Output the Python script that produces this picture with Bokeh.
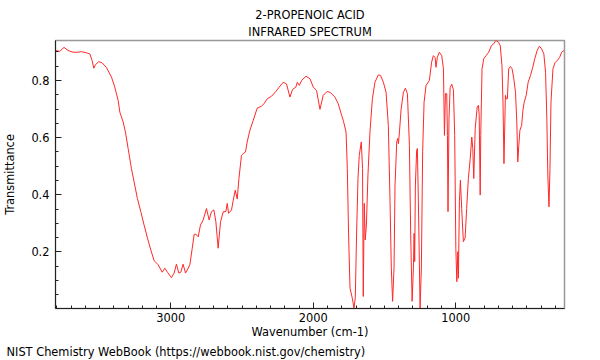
import numpy as np
from bokeh.plotting import figure
from bokeh.models import FixedTicker, Title
from bokeh.embed import file_html
from bokeh.resources import INLINE

title_lines = ["2-PROPENOIC ACID", "INFRARED SPECTRUM"]
x_label = "Wavenumber (cm-1)"
y_label = "Transmittance"
footer = "NIST Chemistry WebBook (https://webbook.nist.gov/chemistry)"

x_major = [1000, 2000, 3000]
y_major = [0.2, 0.4, 0.6, 0.8]

wavenumber = [
    3811, 3780, 3750, 3722, 3687, 3651, 3628, 3593, 3569, 3553, 3541, 3530, 3506, 3483,
    3453, 3417, 3394, 3370, 3358, 3335, 3319, 3300, 3277, 3258, 3235, 3211, 3188, 3164,
    3141, 3117, 3089, 3061, 3042, 3024, 2996, 2977, 2961, 2944, 2930, 2914, 2897, 2878,
    2866, 2850, 2836, 2824, 2808, 2792, 2773, 2750, 2731, 2715, 2698, 2684, 2668, 2651,
    2632, 2614, 2604, 2595, 2574, 2562, 2548, 2534, 2522, 2504, 2492, 2476, 2464, 2445,
    2422, 2394, 2363, 2346, 2323, 2293, 2262, 2239, 2211, 2188, 2164, 2145, 2122, 2112,
    2098, 2082, 2051, 2023, 2000, 1977, 1953, 1930, 1902, 1878, 1848, 1825, 1801, 1789,
    1770, 1761, 1752, 1742, 1726, 1714, 1705, 1696, 1686, 1677, 1663, 1654, 1649, 1642,
    1635, 1627, 1616, 1602, 1585, 1567, 1543, 1527, 1508, 1489, 1473, 1461, 1452, 1443,
    1433, 1426, 1414, 1407, 1402, 1395, 1383, 1367, 1353, 1339, 1325, 1316, 1306, 1297,
    1292, 1288, 1283, 1274, 1269, 1262, 1250, 1241, 1232, 1222, 1208, 1185, 1169, 1157,
    1145, 1138, 1129, 1115, 1098, 1086, 1079, 1072, 1063, 1058, 1054, 1047, 1039, 1028,
    1016, 1007, 999, 992, 985, 981, 974, 967, 958, 946, 934, 923, 911, 898,
    887, 880, 873, 863, 849, 840, 835, 828, 824, 815, 803, 787, 768, 749,
    734, 718, 699, 687, 675, 668, 661, 651, 645, 637, 628, 616, 604, 592,
    580, 571, 564, 557, 549, 537, 528, 519, 505, 491, 475, 459, 445, 428,
    412, 397, 381, 369, 360, 353, 345, 338, 331, 317, 303, 287, 270, 256, 240,
]
transmittance = [
    0.905, 0.902, 0.916, 0.905, 0.899, 0.899, 0.901, 0.897, 0.893, 0.870, 0.843, 0.855, 0.866, 0.862,
    0.846, 0.812, 0.777, 0.730, 0.689, 0.655, 0.620, 0.562, 0.492, 0.445, 0.387, 0.341, 0.294, 0.248,
    0.207, 0.169, 0.155, 0.129, 0.143, 0.129, 0.110, 0.126, 0.157, 0.126, 0.129, 0.157, 0.126, 0.143,
    0.157, 0.213, 0.262, 0.262, 0.253, 0.294, 0.312, 0.352, 0.312, 0.341, 0.347, 0.306, 0.213, 0.306,
    0.341, 0.341, 0.370, 0.335, 0.347, 0.381, 0.416, 0.385, 0.457, 0.538, 0.544, 0.550, 0.585, 0.626,
    0.660, 0.703, 0.710, 0.719, 0.736, 0.745, 0.762, 0.777, 0.794, 0.788, 0.742, 0.769, 0.777, 0.794,
    0.783, 0.800, 0.815, 0.806, 0.777, 0.765, 0.699, 0.748, 0.762, 0.757, 0.742, 0.719, 0.678, 0.660,
    0.620, 0.492, 0.259, 0.073, 0.038, 0.003, 0.040, 0.259, 0.457, 0.538, 0.585, 0.492, 0.044, 0.370,
    0.242, 0.294, 0.469, 0.620, 0.736, 0.794, 0.820, 0.817, 0.794, 0.759, 0.643, 0.376, 0.143, 0.027,
    0.143, 0.434, 0.585, 0.597, 0.579, 0.620, 0.701, 0.759, 0.773, 0.754, 0.573, 0.259, 0.027, 0.143,
    0.265, 0.166, 0.434, 0.556, 0.562, 0.376, 0.003, 0.143, 0.550, 0.724, 0.783, 0.800, 0.864, 0.887,
    0.881, 0.846, 0.881, 0.899, 0.887, 0.841, 0.608, 0.754, 0.754, 0.608, 0.341, 0.666, 0.775, 0.787,
    0.768, 0.608, 0.213, 0.096, 0.201, 0.108, 0.376, 0.451, 0.352, 0.236, 0.248, 0.352, 0.457, 0.527,
    0.602, 0.562, 0.457, 0.632, 0.707, 0.713, 0.678, 0.399, 0.608, 0.841, 0.876, 0.887, 0.899, 0.922,
    0.928, 0.940, 0.934, 0.922, 0.852, 0.724, 0.509, 0.748, 0.736, 0.736, 0.841, 0.849, 0.841, 0.806,
    0.759, 0.655, 0.515, 0.573, 0.626, 0.643, 0.695, 0.724, 0.748, 0.794, 0.817, 0.846, 0.876, 0.905,
    0.920, 0.911, 0.893, 0.829, 0.666, 0.469, 0.358, 0.492, 0.724, 0.841, 0.862, 0.870, 0.881, 0.899, 0.905,
]

FONT = "DejaVu Sans"
FS = "11.4px"

p = figure(frame_width=509, frame_height=268, x_range=(3810, 236), y_range=(0.002, 0.94),
           output_backend="svg", toolbar_location=None,
           min_border_left=0, min_border_right=26, min_border_top=0, min_border_bottom=0)
p.background_fill_color = "white"
p.border_fill_color = "white"
p.grid.visible = False
p.outline_line_color = "#999999"
p.outline_line_width = 1.5

p.line(wavenumber, transmittance, line_color="#ff2828", line_width=1)

for ax in (p.xaxis[0], p.yaxis[0]):
    ax.axis_line_color = "#222222"
    ax.major_tick_line_color = "#222222"
    ax.minor_tick_line_color = "#222222"
    ax.major_tick_in = 6
    ax.major_tick_out = 0
    ax.minor_tick_in = 3
    ax.minor_tick_out = 0
    ax.major_label_text_font = FONT
    ax.major_label_text_font_size = FS
    ax.major_label_text_color = "black"
    ax.axis_label_text_font = FONT
    ax.axis_label_text_font_size = FS
    ax.axis_label_text_font_style = "normal"
    ax.axis_label_text_color = "black"

p.xaxis.ticker = FixedTicker(ticks=x_major, minor_ticks=list(range(300, 3900, 100)))
p.yaxis.ticker = FixedTicker(ticks=y_major, minor_ticks=[round(0.05 * i, 2) for i in range(0, 19)])
p.xaxis.major_label_standoff = 4
p.yaxis.major_label_standoff = 6
p.xaxis.axis_label = x_label
p.yaxis.axis_label = y_label
p.xaxis.axis_label_standoff = 0
p.yaxis.axis_label_standoff = 11

def title(text, where, align="center", offset=0, standoff=0, size=FS):
    t = Title(text=text, align=align, offset=offset, standoff=standoff,
              text_font=FONT, text_font_size=size, text_font_style="normal", text_color="black")
    p.add_layout(t, where)

title(title_lines[1], "above", standoff=3)
title(title_lines[0], "above", standoff=0)
title(" ", "above", standoff=0, size="2.8px")
title(footer, "below", align="left", offset=-49, standoff=2)

open("out.html", "w").write(file_html(p, INLINE))
